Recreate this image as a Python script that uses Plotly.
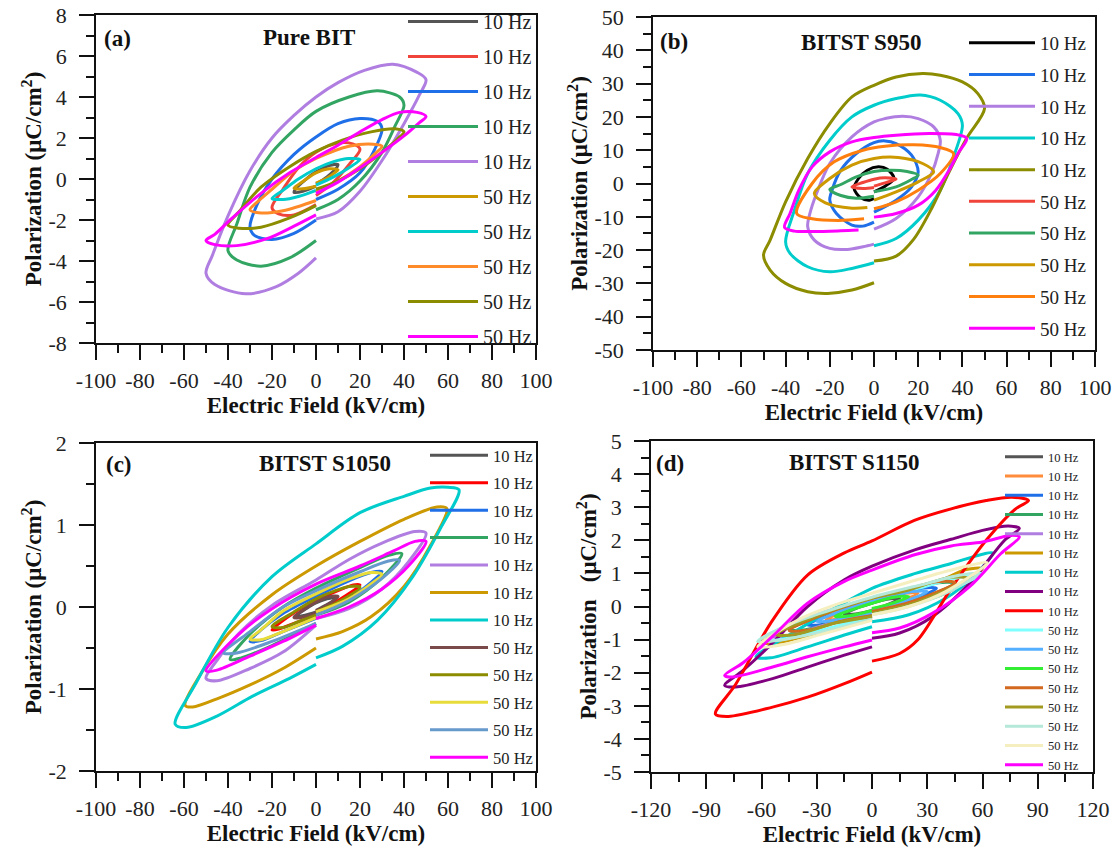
import plotly.graph_objects as go

# ---------------- panel (a) Pure BIT ----------------
A_NAMES = ["10 Hz"] * 5 + ["50 Hz"] * 5
A_E = [
    [0, 5, 9, 10, 6, 0, -5, -9, -10, -6, 0],
    [0, 8, 15, 20, 17, 10, 0, -8, -15, -20, -17, -10, 0],
    [0, 10, 20, 26, 30, 28, 20, 10, 0, -10, -20, -27, -30, -28, -20, -10, 0],
    [0, 10, 20, 30, 36, 40, 38, 28, 15, 0, -10, -20, -30, -36, -40, -36, -25, -12, 0],
    [0, 10, 20, 30, 40, 47, 50, 46, 35, 22, 10, 0, -10, -20, -30, -40, -47, -50, -46, -32, -18, -8, 0],
    [0, 5, 9, 10, 6, 0, -5, -9, -10, -6, 0],
    [0, 8, 15, 20, 15, 8, 0, -8, -15, -20, -15, -8, 0],
    [0, 10, 20, 27, 30, 26, 15, 0, -10, -20, -27, -30, -26, -15, 0],
    [0, 10, 20, 30, 37, 40, 36, 25, 12, 0, -12, -25, -35, -40, -35, -25, -12, 0],
    [0, 10, 20, 30, 40, 47, 50, 46, 38, 30, 20, 10, 0, -12, -25, -38, -46, -50, -46, -36, -22, -10, 0],
]
A_P = [
    [-0.25, 0.1, 0.5, 0.7, 0.65, 0.35, -0.05, -0.45, -0.65, -0.6, -0.35],
    [-0.8, -0.15, 0.7, 1.45, 1.7, 1.75, 1.3, 0.55, -0.5, -1.4, -1.7, -1.75, -1.25],
    [-1.0, -0.5, 0.3, 1.3, 2.45, 2.8, 2.95, 2.7, 2.05, 1.2, 0.0, -1.3, -2.35, -2.75, -2.95, -2.65, -2.0],
    [-1.5, -1.0, -0.1, 1.3, 2.6, 3.6, 4.0, 4.3, 4.0, 3.3, 2.4, 1.3, -0.4, -2.2, -3.5, -3.95, -4.25, -3.85, -3.0],
    [-1.95, -1.6, -0.6, 0.9, 2.7, 4.1, 4.85, 5.2, 5.6, 5.3, 4.7, 4.0, 3.1, 2.0, 0.4, -1.8, -3.7, -4.6, -5.15, -5.6, -5.25, -4.6, -3.85],
    [-0.2, 0.05, 0.35, 0.45, 0.5, 0.3, -0.05, -0.35, -0.45, -0.48, -0.35],
    [-0.3, 0.1, 0.55, 0.95, 1.0, 0.85, 0.5, 0.0, -0.55, -0.95, -1.0, -0.85, -0.55],
    [-0.6, -0.1, 0.6, 1.25, 1.6, 1.7, 1.6, 1.0, 0.4, -0.5, -1.15, -1.5, -1.65, -1.55, -1.05],
    [-0.5, -0.1, 0.5, 1.3, 1.95, 2.3, 2.45, 2.3, 1.9, 1.35, 0.6, -0.4, -1.6, -2.25, -2.4, -2.35, -1.9, -1.3],
    [-0.7, -0.15, 0.55, 1.3, 2.1, 2.75, 3.05, 3.25, 3.25, 2.9, 2.3, 1.65, 1.05, 0.3, -0.7, -1.9, -2.7, -3.0, -3.2, -3.25, -2.9, -2.3, -1.75],
]

# ---------------- panel (b) BITST S950 ----------------
B_NAMES = ["10 Hz"] * 5 + ["50 Hz"] * 5
B_E = [
    [0, 5, 9, 6, 2, -3, -7, -9, -6, -2, 0],
    [0, 10, 17, 20, 17, 10, 5, 0, -8, -15, -19, -20, -17, -10, -5, 0],
    [0, 10, 20, 26, 29, 30, 27, 20, 13, 5, 0, -10, -20, -26, -29, -30, -27, -20, -12, -5, 0],
    [0, 10, 20, 30, 36, 40, 38, 30, 21, 10, 0, -10, -20, -30, -36, -40, -38, -30, -20, -10, 0],
    [0, 10, 18, 26, 34, 42, 50, 47, 40, 30, 22, 10, 0, -10, -20, -30, -40, -47, -50, -47, -40, -30, -21, -10, 0],
    [0, 5, 10, 5, 0, -5, -10, -5, 0],
    [0, 10, 17, 20, 15, 8, 0, -8, -15, -20, -15, -8, 0],
    [0, 10, 20, 27, 22, 11, 0, -10, -20, -27, -22, -10, -3],
    [0, 10, 20, 30, 36, 30, 18, 5, -5, -18, -28, -35, -28, -16, -4.5],
    [0, 10, 20, 28, 34, 38, 42, 38, 25, 10, 0, -10, -20, -28, -34, -38, -40.5, -36, -27, -15, -7],
]
B_P = [
    [-2.5, -0.8, 1.5, 4.3, 5.0, 4.0, 1.5, -1.5, -4.3, -5.0, -4.5],
    [-8.6, -5, -1, 3.5, 8.5, 12, 12.8, 12.3, 9, 4, -2, -5, -9, -12.5, -12.8, -11.6],
    [-13.7, -10.5, -4, 3, 9, 13, 17, 19.5, 20.2, 19.5, 18.5, 14, 6, -3, -9, -13, -17, -19.5, -19.8, -19, -18.2],
    [-18.7, -16.5, -11, -2, 8, 17.5, 21, 25, 26.6, 25.5, 23.5, 20, 13, 3, -8, -17.5, -21, -25, -26.5, -25.5, -23.8],
    [-23.3, -21.8, -16.7, -7.6, 3.5, 13.7, 22.5, 27, 30.5, 32.5, 33, 32, 29.5, 26, 18, 7.5, -5.5, -17, -21.5, -26, -30, -32.5, -33, -32, -29.8],
    [-0.8, 0.2, 1.3, 1.7, 1.3, 0.3, -1.0, -1.5, -1.2],
    [-2.5, -1, 1.2, 2.5, 3.6, 4.0, 3.6, 2, -0.3, -1.8, -3.6, -4.4, -3.8],
    [-5, -2.5, 0.5, 3.5, 6, 7.8, 7.5, 5.5, 1.5, -3, -5.8, -7.4, -7.2],
    [-7.6, -5.5, -2, 3, 9, 10.8, 11.6, 11.2, 10, 6.5, 0, -9, -10.6, -11.1, -10.6],
    [-10.1, -9, -6.5, -2, 4, 9, 13.5, 14.6, 15, 14.5, 13.8, 12.5, 9.5, 5, -2, -9, -13.2, -14.3, -14.4, -14.2, -14],
]

# ---------------- panel (c) BITST S1050 ----------------
C_NAMES = ["10 Hz"] * 7 + ["50 Hz"] * 5
C_E = [
    [0, 5, 10, 5, 0, -5, -10, -5, 0],
    [0, 10, 20, 17, 10, 0, -10, -20, -17, -10, 0],
    [0, 15, 25, 30, 25, 15, 0, -15, -25, -30, -25, -15, 0],
    [0, 15, 30, 39, 33, 20, 0, -15, -30, -39, -34, -20, 0],
    [0, 15, 30, 42, 50, 45, 30, 15, 0, -20, -35, -45, -50, -45, -30, -15, 0],
    [0, 12, 25, 40, 52, 59.5, 55, 40, 20, 0, -20, -40, -52, -59.5, -56, -45, -30, -15, 0],
    [0, 12, 28, 44, 57, 65, 60, 52, 40, 20, 0, -20, -40, -55, -64, -59, -45, -29, -12, 0],
    [0, 5, 10, 5, 0, -5, -10, -5, 0],
    [0, 10, 20, 15, 8, 0, -10, -20, -15, -8, 0],
    [0, 15, 25, 30, 25, 15, 0, -15, -25, -30, -25, -15, 0],
    [0, 15, 30, 38, 33, 20, 0, -15, -30, -42, -36, -20, 0],
    [0, 15, 30, 42, 50, 45, 35, 20, 0, -20, -35, -50, -45, -30, -15, 0],
]
C_P = [
    [-0.04, 0.03, 0.12, 0.1, 0.05, -0.03, -0.12, -0.1, -0.06],
    [-0.05, 0.08, 0.27, 0.27, 0.2, 0.08, -0.07, -0.28, -0.27, -0.2, -0.1],
    [-0.08, 0.1, 0.3, 0.43, 0.42, 0.32, 0.13, -0.08, -0.28, -0.42, -0.41, -0.3, -0.14],
    [-0.1, 0.06, 0.36, 0.65, 0.63, 0.48, 0.23, 0.0, -0.33, -0.64, -0.62, -0.47, -0.2],
    [-0.14, -0.02, 0.22, 0.55, 0.9, 0.92, 0.78, 0.58, 0.33, 0.02, -0.32, -0.65, -0.87, -0.9, -0.75, -0.55, -0.22],
    [-0.39, -0.3, -0.12, 0.25, 0.75, 1.2, 1.22, 1.07, 0.8, 0.5, 0.15, -0.33, -0.8, -1.2, -1.22, -1.12, -0.95, -0.75, -0.5],
    [-0.62, -0.48, -0.16, 0.37, 0.98, 1.43, 1.46, 1.45, 1.35, 1.15, 0.77, 0.37, -0.25, -0.95, -1.43, -1.47, -1.33, -1.09, -0.87, -0.7],
    [-0.05, 0.02, 0.13, 0.12, 0.06, -0.02, -0.13, -0.12, -0.07],
    [-0.06, 0.06, 0.24, 0.25, 0.19, 0.1, -0.06, -0.24, -0.25, -0.18, -0.1],
    [-0.06, 0.1, 0.28, 0.4, 0.42, 0.34, 0.16, -0.05, -0.28, -0.39, -0.4, -0.3, -0.13],
    [-0.1, 0.08, 0.35, 0.57, 0.56, 0.43, 0.2, 0.0, -0.3, -0.56, -0.56, -0.42, -0.2],
    [-0.14, 0.0, 0.22, 0.5, 0.8, 0.8, 0.68, 0.5, 0.28, -0.02, -0.33, -0.78, -0.77, -0.6, -0.42, -0.22],
]

# ---------------- panel (d) BITST S1150 ----------------
D_NAMES = ["10 Hz"] * 9 + ["50 Hz"] * 8
D_E = [
    [0, 8, 15, 8, 0, -8, -15, -8, 0],
    [0, 12, 25, 18, 0, -12, -25, -18, 0],
    [0, 18, 35, 28, 12, 0, -18, -35, -28, -12, 0],
    [0, 22, 45, 36, 15, 0, -22, -45, -36, -15, 0],
    [0, 25, 45, 55, 45, 25, 0, -25, -45, -55, -45, -25, 0],
    [0, 20, 40, 60, 50, 40, 20, 0, -20, -40, -60, -50, -40, -25, 0],
    [0, 20, 40, 55, 65.5, 60, 43, 23.6, 0, -25, -44.6, -63, -55, -35, -15, 0],
    [0, 15, 33, 53, 72, 80, 74, 60, 43, 23.6, 0, -15, -35, -54, -70, -80, -74, -54, -35, -15, 0],
    [0, 15, 25, 43, 62, 78, 85, 76, 62, 43, 23, 0, -15, -35, -55, -74, -85, -78, -54, -35, -15, 0],
    [0, 20, 40, 60, 45, 25, 0, -25, -45, -62, -50, -30, 0],
    [0, 15, 30, 22, 0, -15, -30, -22, 0],
    [0, 10, 20, 12, 0, -10, -20, -12, 0],
    [0, 22, 45, 35, 15, 0, -22, -45, -35, -15, 0],
    [0, 25, 52, 42, 20, 0, -25, -52, -42, -20, 0],
    [0, 20, 40, 58, 48, 30, 0, -25, -45, -62, -50, -30, 0],
    [0, 20, 40, 62.6, 50, 30, 0, -20, -40, -62, -48, -28, 0],
    [0, 15, 33, 53, 70, 80, 76, 60, 43, 23.6, 0, -15, -35, -54, -70, -80, -76, -54, -35, -15, 0],
]
D_P = [
    [-0.08, 0.05, 0.25, 0.22, 0.1, -0.04, -0.24, -0.22, -0.12],
    [-0.1, 0.1, 0.4, 0.4, 0.15, -0.08, -0.4, -0.38, -0.16],
    [-0.12, 0.12, 0.55, 0.56, 0.32, 0.16, -0.15, -0.55, -0.55, -0.3, -0.2],
    [-0.15, 0.15, 0.7, 0.72, 0.4, 0.2, -0.15, -0.7, -0.7, -0.38, -0.25],
    [-0.2, 0.12, 0.55, 0.9, 0.9, 0.6, 0.25, -0.15, -0.55, -0.9, -0.88, -0.55, -0.3],
    [-0.2, 0.05, 0.4, 1.15, 1.1, 0.85, 0.5, 0.22, -0.12, -0.5, -1.1, -1.08, -0.95, -0.75, -0.35],
    [-0.46, -0.25, 0.25, 0.9, 1.62, 1.58, 1.3, 1.0, 0.55, -0.2, -0.85, -1.52, -1.55, -1.22, -0.86, -0.61],
    [-0.96, -0.8, -0.3, 0.7, 2.0, 2.36, 2.43, 2.3, 2.03, 1.72, 1.22, 0.81, 0.0, -1.1, -1.93, -2.38, -2.43, -2.18, -1.83, -1.47, -1.22],
    [-1.65, -1.42, -1.0, 0.55, 2.0, 2.95, 3.2, 3.3, 3.2, 2.95, 2.6, 1.98, 1.62, 0.95, -0.5, -2.35, -3.25, -3.32, -3.04, -2.74, -2.33, -1.98],
    [-0.15, 0.1, 0.45, 1.0, 0.85, 0.55, 0.2, -0.2, -0.55, -1.05, -1.0, -0.75, -0.3],
    [-0.1, 0.1, 0.45, 0.45, 0.15, -0.1, -0.45, -0.43, -0.18],
    [-0.06, 0.08, 0.3, 0.28, 0.1, -0.08, -0.3, -0.28, -0.12],
    [-0.15, 0.15, 0.72, 0.75, 0.45, 0.25, -0.15, -0.72, -0.72, -0.42, -0.28],
    [-0.2, 0.15, 0.85, 0.88, 0.5, 0.25, -0.18, -0.85, -0.85, -0.5, -0.3],
    [-0.25, 0.0, 0.4, 1.0, 0.95, 0.7, 0.28, -0.15, -0.55, -1.05, -1.02, -0.8, -0.38],
    [-0.25, 0.0, 0.45, 1.32, 1.2, 0.9, 0.4, 0.05, -0.4, -1.22, -1.15, -0.85, -0.42],
    [-0.79, -0.65, -0.2, 0.6, 1.6, 2.1, 2.15, 1.95, 1.83, 1.57, 1.1, 0.76, 0.1, -0.9, -1.7, -2.08, -2.13, -1.83, -1.52, -1.22, -1.01],
]

# tick values (labels use a plain hyphen like the original)
X_TICKS = [-100, -80, -60, -40, -20, 0, 20, 40, 60, 80, 100]
XD_TICKS = [-120, -90, -60, -30, 0, 30, 60, 90, 120]
YA_TICKS = [-8, -6, -4, -2, 0, 2, 4, 6, 8]
YB_TICKS = [-50, -40, -30, -20, -10, 0, 10, 20, 30, 40, 50]
YC_TICKS = [-2, -1, 0, 1, 2]
YD_TICKS = [-5, -4, -3, -2, -1, 0, 1, 2, 3, 4, 5]

# colours per panel (legend order)
A_COLORS = ["#555555", "#f0433a", "#1f6fe8", "#33a563", "#b07ee0",
            "#cc9900", "#00cccc", "#ff8a2a", "#8c8c00", "#ff00ff"]
B_COLORS = ["#000000", "#1f6fe8", "#b07ee0", "#00cccc", "#8c8c00",
            "#f0433a", "#33a563", "#cc9900", "#ff7f0e", "#ff00ff"]
C_COLORS = ["#555555", "#ff0000", "#1f6fe8", "#33a563", "#b07ee0", "#cc9900", "#00cccc",
            "#7a4a4a", "#8c8c00", "#e8dc3a", "#6699cc", "#ff00ff"]
D_COLORS = ["#555555", "#ff8c3a", "#1f6fe8", "#33a563", "#b07ee0", "#cc9900", "#00cccc",
            "#800080", "#ff0000", "#80ffff", "#55b0ff", "#33ee33", "#d2691e", "#a39a22",
            "#b5e8d8", "#f5efc0", "#ff00ff"]

FONT = "Liberation Serif"
W, H = 1115, 853

panels = [
    # key, E, P, names, colors, xaxis, yaxis, legend
    ("a", A_E, A_P, A_NAMES, A_COLORS, "x", "y", "legend"),
    ("b", B_E, B_P, B_NAMES, B_COLORS, "x2", "y2", "legend2"),
    ("c", C_E, C_P, C_NAMES, C_COLORS, "x3", "y3", "legend3"),
    ("d", D_E, D_P, D_NAMES, D_COLORS, "x4", "y4", "legend4"),
]

fig = go.Figure()
for key, es, ps, names, colors, xa, ya, lg in panels:
    for i, (e, p) in enumerate(zip(es, ps)):
        fig.add_trace(go.Scatter(
            x=e, y=p, mode="lines", name=names[i],
            line=dict(color=colors[i], width=3, shape="spline", smoothing=0.9),
            xaxis=xa, yaxis=ya, legend=lg, legendgroup=f"{key}{i}",
        ))


# page pixel -> paper fraction
def fx(px):
    return px / W


def fy(py):
    return 1 - py / H


tickfont = dict(family=FONT, size=22, color="#222")
titlefont = dict(family=FONT, size=23, color="#111", weight="bold")


def common(ticks, mdtick):
    return dict(tickmode="array", tickvals=ticks, ticktext=[str(t) for t in ticks],
                ticks="outside", ticklen=15, tickwidth=1.5, tickcolor="#111",
                minor=dict(ticks="outside", ticklen=8, tickwidth=1.5, tickcolor="#111",
                           tick0=ticks[0], dtick=mdtick),
                range=[ticks[0], ticks[-1]], ticklabeloverflow="allow",
                showline=True, linewidth=1.5, linecolor="#111", mirror=True,
                showgrid=False, zeroline=False, tickfont=tickfont, automargin=False)


def xaxis(left, right, anchor, ticks, mdtick):
    return dict(domain=[fx(left), fx(right)], anchor=anchor, ticklabelstandoff=2,
                title=dict(text="Electric Field (kV/cm)", font=titlefont, standoff=2),
                **common(ticks, mdtick))


def yaxis(top, bottom, anchor, ticks, mdtick, title):
    return dict(domain=[fy(bottom), fy(top)], anchor=anchor, ticklabelstandoff=8,
                title=dict(text=title, font=titlefont, standoff=0),
                **common(ticks, mdtick))


ytitle = "Polarization (μC/cm<sup>2</sup>)"
legfont = dict(family=FONT, color="#222")


def legend(x, y, itemwidth, gap, size):
    return dict(x=fx(x), y=fy(y), xanchor="left", yanchor="top",
                bgcolor="rgba(0,0,0,0)", itemwidth=itemwidth, tracegroupgap=gap,
                traceorder="grouped", font=dict(size=size, **legfont))


fig.update_layout(
    width=W, height=H, margin=dict(l=0, r=0, t=0, b=0, autoexpand=False),
    paper_bgcolor="white", plot_bgcolor="white", showlegend=True,
    xaxis=xaxis(96, 536, "y", X_TICKS, 10),
    yaxis=yaxis(15, 343, "x", YA_TICKS, 1, ytitle),
    xaxis2=xaxis(653, 1095, "y2", X_TICKS, 10),
    yaxis2=yaxis(17, 350, "x2", YB_TICKS, 5, ytitle),
    xaxis3=xaxis(96, 536, "y3", X_TICKS, 10),
    yaxis3=yaxis(443, 771, "x3", YC_TICKS, 0.5, ytitle),
    xaxis4=xaxis(651, 1093, "y4", XD_TICKS, 15),
    yaxis4=yaxis(441, 772, "x4", YD_TICKS, 0.5,
                 "Polarization&nbsp;&nbsp;&nbsp;(μC/cm<sup>2</sup>)"),
    legend=legend(403, 2, 70, 6, 20),
    legend2=legend(964, 24, 66, 4, 19),
    legend3=legend(425, 438, 58, 3, 16.5),
    legend4=legend(1000, 442, 38, 0, 12.5),
)

labels = [
    ("(a)", 117, 38, "Pure BIT", 309, 37),
    ("(b)", 674, 42, "BITST S950", 861, 43),
    ("(c)", 119, 464, "BITST S1050", 325, 463),
    ("(d)", 670, 463, "BITST S1150", 854, 462),
]
for tag, tx, ty, name, nx, ny in labels:
    for text, x, y in ((tag, tx, ty), (name, nx, ny)):
        fig.add_annotation(text=text, x=fx(x), y=fy(y), xref="paper", yref="paper",
                           xanchor="center", yanchor="middle", showarrow=False,
                           font=dict(family=FONT, size=23, color="#111", weight="bold"))

# the page body has a default 8px margin; drop it so the figure fills the window
fig.write_html("out.html", config={"displayModeBar": False},
               post_script="document.body.style.margin='0';"
                           "document.body.style.overflow='hidden';")
